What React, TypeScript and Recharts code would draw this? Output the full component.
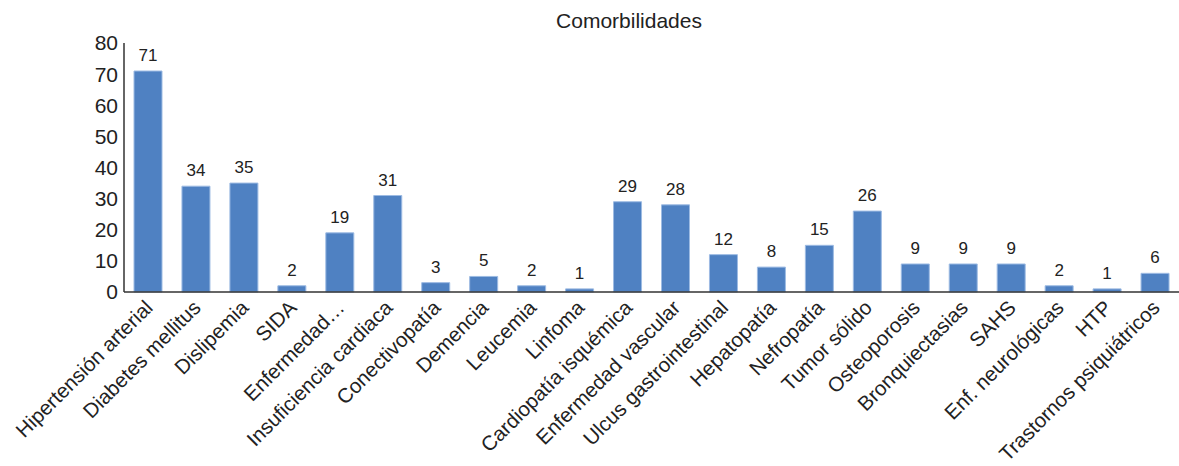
import { BarChart, Bar, XAxis, YAxis, LabelList } from 'recharts';

const CATEGORIES = [
  'Hipertensión arterial',
  'Diabetes mellitus',
  'Dislipemia',
  'SIDA',
  'Enfermedad…',
  'Insuficiencia cardiaca',
  'Conectivopatía',
  'Demencia',
  'Leucemia',
  'Linfoma',
  'Cardiopatía isquémica',
  'Enfermedad vascular',
  'Ulcus gastrointestinal',
  'Hepatopatía',
  'Nefropatía',
  'Tumor sólido',
  'Osteoporosis',
  'Bronquiectasias',
  'SAHS',
  'Enf. neurológicas',
  'HTP',
  'Trastornos psiquiátricos',
];

const COUNTS = [71, 34, 35, 2, 19, 31, 3, 5, 2, 1, 29, 28, 12, 8, 15, 26, 9, 9, 9, 2, 1, 6];

const Y_TICKS = [0, 10, 20, 30, 40, 50, 60, 70, 80];

const data = CATEGORIES.map((name, i) => ({ name, value: COUNTS[i] }));

const FONT = '"Liberation Sans", Arial, sans-serif';
const TEXT_COLOR = '#222';

function RotatedTick({ x, y, payload }: any) {
  const ax = x + 6;
  const ay = y + 9;
  return (
    <text
      x={ax}
      y={ay}
      transform={`rotate(-45, ${ax}, ${ay})`}
      textAnchor="end"
      fontSize={20.5}
      fontFamily={FONT}
      fill={TEXT_COLOR}
    >
      {payload.value}
    </text>
  );
}

export default function App() {
  return (
    <div style={{ position: 'absolute', left: 0, top: 0, width: 1179, height: 466, background: '#fff' }}>
      <div
        style={{
          position: 'absolute',
          left: 0,
          width: 1258,
          top: 10,
          lineHeight: 1,
          textAlign: 'center',
          fontFamily: FONT,
          fontSize: 21,
          color: TEXT_COLOR,
        }}
      >
        Comorbilidades
      </div>
      <BarChart
        width={1179}
        height={466}
        data={data}
        margin={{ top: 43, right: 0, bottom: 0, left: 0 }}
        barCategoryGap={0}
      >
        <XAxis
          dataKey="name"
          interval={0}
          height={174}
          tickLine={false}
          axisLine={{ stroke: '#333', strokeWidth: 1.5 }}
          tick={<RotatedTick />}
        />
        <YAxis
          width={124}
          domain={[0, 80]}
          ticks={Y_TICKS}
          tickLine={false}
          axisLine={{ stroke: '#333', strokeWidth: 1.5 }}
          tick={{ fontSize: 21, fontFamily: FONT, fill: TEXT_COLOR }}
          tickMargin={0}
        />
        <Bar dataKey="value" fill="#4f81c2" stroke="#9dbbe3" strokeWidth={1} barSize={28} isAnimationActive={false}>
          <LabelList
            dataKey="value"
            position="top"
            offset={10}
            fontSize={17}
            fontFamily={FONT}
            fill={TEXT_COLOR}
          />
        </Bar>
      </BarChart>
    </div>
  );
}
